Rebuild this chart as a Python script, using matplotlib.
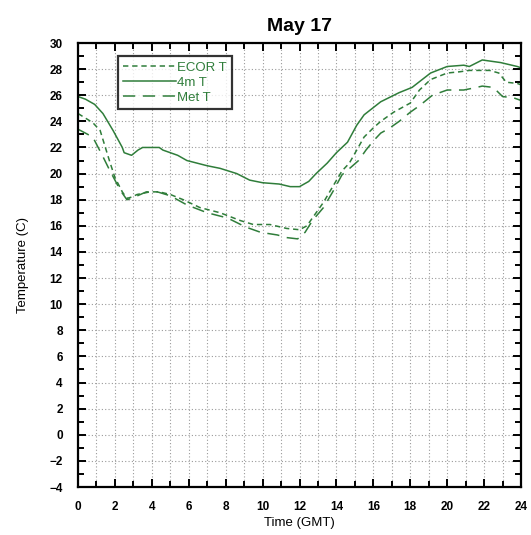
import matplotlib

matplotlib.use("Agg")
import matplotlib.pyplot as plt
from matplotlib.ticker import MultipleLocator

plt.rcParams["font.family"] = ["Liberation Sans", "DejaVu Sans"]

# 4m 温度（实线）
hours_4m = [0.0, 0.4, 0.9, 1.35, 1.9, 2.4, 2.5, 2.9, 3.25, 3.5, 4.4, 4.6, 5.4, 5.9, 7.0,
            7.7, 8.6, 9.3, 10.0, 10.9, 11.5, 12.0, 12.5, 12.9, 13.5, 14.0, 14.6, 15.1,
            15.5, 16.4, 17.4, 18.1, 19.1, 20.0, 20.9, 21.2, 21.9, 22.9, 23.8, 24.0]
temp_4m = [25.9, 25.7, 25.3, 24.6, 23.3, 22.0, 21.6, 21.4, 21.8, 22.0, 22.0, 21.8, 21.4,
           21.0, 20.6, 20.4, 20.0, 19.5, 19.3, 19.2, 19.0, 19.0, 19.4, 20.0, 20.8, 21.6,
           22.4, 23.7, 24.5, 25.5, 26.2, 26.6, 27.7, 28.2, 28.3, 28.2, 28.7, 28.5, 28.2,
           28.1]

# ECOR 温度（短虚线）
hours_ecor = [0.0, 0.8, 1.2, 1.7, 2.0, 2.4, 2.65, 2.9, 3.2, 3.9, 4.4, 5.0, 5.7, 6.6, 7.7,
              8.8, 9.5, 10.4, 11.3, 12.0, 12.4, 12.8, 13.3, 13.8, 14.3, 14.7, 15.1, 15.5,
              16.0, 16.4, 17.1, 18.0, 18.5, 19.1, 20.0, 20.7, 21.2, 22.3, 22.8, 23.2,
              23.8, 24.0]
temp_ecor = [24.6, 23.9, 23.3, 21.0, 19.7, 18.6, 18.1, 18.2, 18.4, 18.6, 18.6, 18.4, 18.0,
             17.4, 17.0, 16.4, 16.1, 16.1, 15.8, 15.7, 16.0, 16.8, 17.8, 19.0, 20.2, 20.8,
             21.8, 22.8, 23.5, 24.0, 24.7, 25.4, 26.4, 27.2, 27.7, 27.8, 27.9, 27.9, 27.7,
             27.0, 26.9, 26.8]

# 气象站温度（长虚线）
hours_met = [0.0, 0.8, 1.35, 1.7, 2.3, 2.65, 2.9, 3.7, 4.3, 5.0, 5.9, 7.0, 8.1, 9.1, 9.9,
             10.8, 11.3, 11.9, 12.3, 12.7, 13.3, 13.8, 14.3, 14.8, 15.2, 15.6, 16.0, 16.4,
             16.9, 17.4, 18.0, 18.5, 19.2, 20.0, 20.9, 21.6, 21.9, 22.5, 23.0, 23.6, 24.0]
temp_met = [23.4, 22.8, 21.3, 20.3, 18.7, 18.0, 18.1, 18.6, 18.6, 18.3, 17.6, 17.0, 16.6,
            15.9, 15.5, 15.3, 15.1, 15.0, 15.5, 16.4, 17.4, 18.6, 19.9, 20.5, 21.0, 21.8,
            22.5, 23.1, 23.5, 24.0, 24.7, 25.2, 26.0, 26.4, 26.4, 26.6, 26.7, 26.6, 25.9,
            25.8, 25.6]

LINE_COLOR = "#2f7d3a"

fig = plt.figure(figsize=(5.31, 5.35), dpi=100)
ax = fig.add_axes([78 / 531, 1 - 487 / 535, 443 / 531, 444 / 535])

ax.plot(hours_ecor, temp_ecor, color=LINE_COLOR, linewidth=1.1,
        dashes=(3.5, 2.5), label="ECOR T")
ax.plot(hours_4m, temp_4m, color=LINE_COLOR, linewidth=1.1, label="4m T")
ax.plot(hours_met, temp_met, color=LINE_COLOR, linewidth=1.1,
        dashes=(8, 5), label="Met T")

ax.set_xlim(0, 24)
ax.set_ylim(-4, 30)
ax.xaxis.set_major_locator(MultipleLocator(2))
ax.xaxis.set_minor_locator(MultipleLocator(1))
ax.yaxis.set_major_locator(MultipleLocator(2))
ax.yaxis.set_minor_locator(MultipleLocator(1))

# 点状网格：横向每 2 度，纵向每小时
ax.grid(True, which="major", axis="y", color="#9a9a9a", linewidth=0.8, linestyle=(0, (1, 2)))
ax.grid(True, which="both", axis="x", color="#9a9a9a", linewidth=0.8, linestyle=(0, (1, 2)))
ax.set_axisbelow(True)

ax.tick_params(which="both", direction="in", top=True, right=True, width=1.4)
ax.tick_params(which="major", length=6, labelsize=8.5)
ax.tick_params(axis="y", which="major", pad=11)
ax.tick_params(axis="x", which="major", pad=10)
ax.tick_params(which="minor", length=4)
for lab in ax.get_xticklabels() + ax.get_yticklabels():
    lab.set_fontweight("bold")
for spine in ax.spines.values():
    spine.set_linewidth(1.6)

ax.set_title("May 17", fontsize=14, fontweight="bold", pad=9)
ax.set_xlabel("Time (GMT)", fontsize=9.5, labelpad=3)
ax.set_ylabel("Temperature (C)", fontsize=9.5, labelpad=15)

leg = ax.legend(loc="upper left", bbox_to_anchor=(0.09, 0.97), fontsize=9.5,
                frameon=True, fancybox=False, handlelength=4.0, handletextpad=0.1,
                labelspacing=0.2, borderpad=0.4, borderaxespad=0)
leg.get_frame().set_edgecolor("black")
leg.get_frame().set_linewidth(1.6)
for txt in leg.get_texts():
    txt.set_color(LINE_COLOR)

fig.savefig("out.png", dpi=100)
